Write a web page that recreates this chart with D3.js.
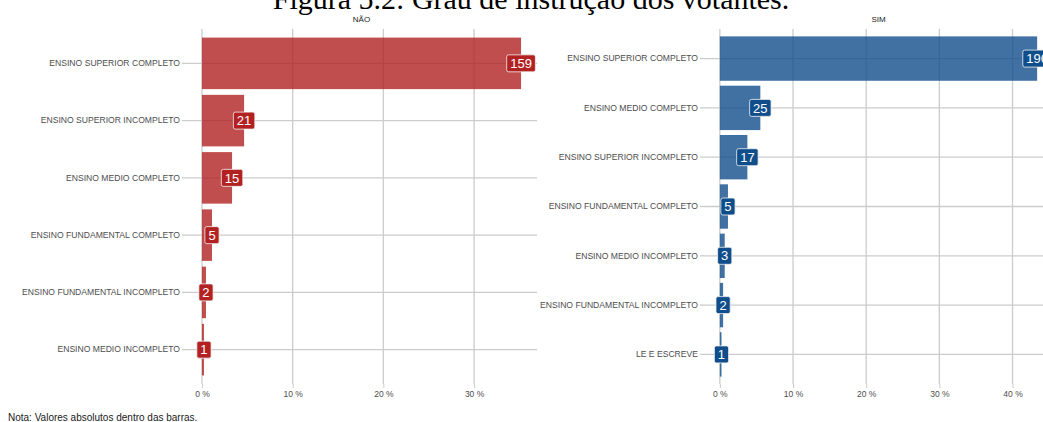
<!DOCTYPE html>
<html>
<head>
<meta charset="utf-8">
<script src="https://cdn.jsdelivr.net/npm/d3@7"></script>
<style>
  html, body { margin: 0; padding: 0; background: #fff; }
  svg { display: block; }
</style>
</head>
<body>
<svg id="chart" width="1043" height="422"></svg>
<script>
// Education level of voters, split by vote (NÃO / SIM).
const naoCategories = [
  "ENSINO SUPERIOR COMPLETO",
  "ENSINO SUPERIOR INCOMPLETO",
  "ENSINO MEDIO COMPLETO",
  "ENSINO FUNDAMENTAL COMPLETO",
  "ENSINO FUNDAMENTAL INCOMPLETO",
  "ENSINO MEDIO INCOMPLETO"
];
const naoCounts = [159, 21, 15, 5, 2, 1];

const simCategories = [
  "ENSINO SUPERIOR COMPLETO",
  "ENSINO MEDIO COMPLETO",
  "ENSINO SUPERIOR INCOMPLETO",
  "ENSINO FUNDAMENTAL COMPLETO",
  "ENSINO MEDIO INCOMPLETO",
  "ENSINO FUNDAMENTAL INCOMPLETO",
  "LE E ESCREVE"
];
const simCounts = [196, 25, 17, 5, 3, 2, 1];

const naoTicks = [0, 10, 20, 30];
const simTicks = [0, 10, 20, 30, 40];

const titleText = "Figura 5.2: Grau de instrução dos votantes.";
const noteText = "Nota: Valores absolutos dentro das barras.";

const total = d3.sum(naoCounts) + d3.sum(simCounts);

const svg = d3.select("#chart");
const font = "'Liberation Sans', Arial, Helvetica, sans-serif";

// Caption title (page heading, partly above the visible area)
svg.append("text")
  .attr("x", 531).attr("y", 9)
  .attr("text-anchor", "middle")
  .attr("font-family", "'Liberation Serif', 'Times New Roman', serif")
  .attr("font-size", 30)
  .attr("fill", "#000")
  .text(titleText);

const panels = [
  { name: "NÃO", cats: naoCategories, counts: naoCounts, ticks: naoTicks,
    left: 186, right: 537, bar: "firebrick", label: "firebrick" },
  { name: "SIM", cats: simCategories, counts: simCounts, ticks: simTicks,
    left: 704, right: 1053, bar: "#104E8B", label: "#104E8B" }
];

const panelTop = 29, panelBottom = 384;
const gridColor = "#cccccc";
const axisText = "#4d4d4d";

panels.forEach(p => {
  const pct = p.counts.map(c => c / total * 100);
  const maxPct = d3.max(pct);
  const pad = maxPct * 0.05;

  const x = d3.scaleLinear().domain([-pad, maxPct + pad]).range([p.left, p.right]);
  const y = d3.scaleBand().domain(p.cats).range([panelTop, panelBottom])
    .paddingInner(0.1).paddingOuter(0.15);

  const g = svg.append("g");

  // strip label
  g.append("text")
    .attr("x", (p.left + p.right) / 2).attr("y", 22)
    .attr("text-anchor", "middle")
    .attr("font-family", font).attr("font-size", 8)
    .attr("fill", "#1a1a1a")
    .text(p.name);

  // vertical grid lines
  g.selectAll(".vg").data(p.ticks).enter().append("line")
    .attr("x1", d => x(d)).attr("x2", d => x(d))
    .attr("y1", panelTop).attr("y2", panelBottom)
    .attr("stroke", gridColor).attr("stroke-width", 1.3);

  // horizontal grid lines
  g.selectAll(".hg").data(p.cats).enter().append("line")
    .attr("x1", p.left).attr("x2", p.right)
    .attr("y1", d => y(d) + y.bandwidth() / 2).attr("y2", d => y(d) + y.bandwidth() / 2)
    .attr("stroke", gridColor).attr("stroke-width", 1.3);

  // x axis
  const xAxis = d3.axisBottom(x).tickValues(p.ticks).tickSize(4).tickPadding(3)
    .tickFormat(d => d + " %");
  const ax = g.append("g").attr("transform", `translate(0,${panelBottom})`).call(xAxis);
  ax.select(".domain").remove();
  ax.selectAll(".tick line").attr("stroke", gridColor).attr("stroke-width", 1);
  ax.selectAll(".tick text").attr("font-family", font).attr("font-size", 8.5)
    .attr("fill", axisText);

  // y axis
  const yAxis = d3.axisLeft(y).tickSize(4).tickPadding(2);
  const ay = g.append("g").attr("transform", `translate(${p.left},0)`).call(yAxis);
  ay.select(".domain").remove();
  ay.selectAll(".tick line").attr("stroke", gridColor).attr("stroke-width", 1.3);
  ay.selectAll(".tick text").attr("font-family", font).attr("font-size", 8.6)
    .attr("fill", axisText);

  const rows = p.cats.map((c, i) => ({ cat: c, n: p.counts[i], pct: pct[i] }));

  // bars
  g.selectAll(".bar").data(rows).enter().append("rect")
    .attr("x", x(0)).attr("y", d => y(d.cat))
    .attr("width", d => x(d.pct) - x(0))
    .attr("height", y.bandwidth())
    .attr("fill", p.bar).attr("fill-opacity", 0.8);

  // value labels at the bar ends
  const lab = g.selectAll(".lab").data(rows).enter().append("g")
    .attr("transform", d => `translate(${x(d.pct)},${y(d.cat) + y.bandwidth() / 2})`);
  lab.append("text")
    .attr("text-anchor", "middle").attr("dy", "0.36em")
    .attr("font-family", font).attr("font-size", 13)
    .attr("fill", "#fff")
    .text(d => d.n);
  lab.each(function() {
    const node = d3.select(this);
    const w = node.select("text").node().getComputedTextLength() + 7;
    node.insert("rect", "text")
      .attr("x", -w / 2).attr("y", -8.5)
      .attr("width", w).attr("height", 17)
      .attr("rx", 2).attr("ry", 2)
      .attr("fill", p.label)
      .attr("stroke", "#f2f2f2").attr("stroke-width", 0.8);
  });
});

// note
svg.append("text")
  .attr("x", 8).attr("y", 421)
  .attr("font-family", font).attr("font-size", 10)
  .attr("fill", "#1a1a1a")
  .text(noteText);
</script>
</body>
</html>
